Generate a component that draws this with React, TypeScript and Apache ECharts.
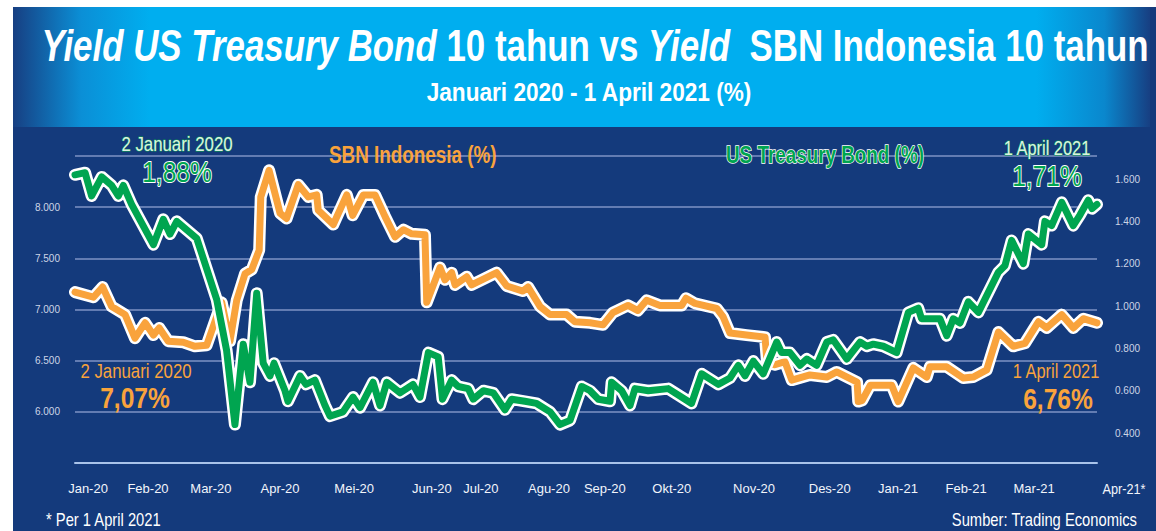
import React, { useEffect, useRef } from "react";
import * as echarts from "echarts";

const FONT = '"Liberation Sans",Arial,Helvetica,sans-serif';
const NARROW = 0.82;

// x axis: days since 2 Jan 2020
const monthLabels = ["Jan-20", "Feb-20", "Mar-20", "Apr-20", "Mei-20", "Jun-20", "Jul-20", "Agu-20", "Sep-20", "Okt-20", "Nov-20", "Des-20", "Jan-21", "Feb-21", "Mar-21"];
const monthLabelDays = [5.8, 32.5, 60.5, 91.3, 124.3, 158.9, 180.7, 211, 235.9, 265.7, 302.3, 336, 366.4, 396.7, 427];
const lastMonthLabel = "Apr-21*";

// SBN Indonesia 10Y (left axis)
const sbnDays = [0, 8.2, 12.3, 16.3, 22.3, 26.7, 31.2, 34.9, 37.5, 41.5, 48.2, 53.4, 58.6, 65.3, 69, 72, 75.7, 78.7, 82, 82.7, 86.4, 91.3, 94.2, 99.4, 103.9, 107.6, 108.3, 115, 121, 123.6, 128.4, 133.6, 138, 142.5, 146.2, 149.9, 155.8, 156.6, 162.5, 164.7, 167.7, 169.2, 174.4, 176.6, 187.7, 192.2, 199.4, 201.7, 207, 211.5, 218.9, 222.6, 229.3, 235.1, 239.5, 246.2, 250.6, 254.5, 260.4, 270.1, 272, 276, 285.7, 288.5, 291.6, 299, 307.2, 308.1, 311.6, 316.1, 319.1, 327.2, 334.7, 339.1, 348.2, 348.7, 350.4, 354.1, 363.6, 366.5, 373.2, 379.2, 380.6, 388.1, 395.5, 399.9, 405.9, 411.1, 417.7, 422.9, 428.9, 432.6, 439.3, 444.5, 448.9, 455];
const sbnValues = [7.17, 7.12, 7.22, 7.03, 6.95, 6.72, 6.87, 6.75, 6.82, 6.69, 6.68, 6.64, 6.65, 7.07, 6.69, 7.09, 7.35, 7.39, 7.58, 8.1, 8.36, 7.94, 7.89, 8.22, 8.1, 8.12, 7.97, 7.83, 8.12, 7.92, 8.12, 8.12, 7.91, 7.71, 7.78, 7.74, 7.73, 7.07, 7.41, 7.29, 7.36, 7.24, 7.32, 7.24, 7.36, 7.23, 7.18, 7.22, 7.03, 6.95, 6.95, 6.88, 6.87, 6.85, 6.97, 7.04, 6.99, 7.09, 7.04, 7.04, 7.11, 7.06, 7.01, 6.93, 6.77, 6.75, 6.73, 6.48, 6.46, 6.49, 6.31, 6.36, 6.34, 6.39, 6.29, 6.1, 6.11, 6.26, 6.26, 6.1, 6.43, 6.34, 6.44, 6.44, 6.33, 6.34, 6.41, 6.78, 6.64, 6.67, 6.88, 6.82, 6.95, 6.82, 6.91, 6.87];

// US Treasury 10Y (right axis)
const ustDays = [0, 4.5, 7.4, 11.9, 16.3, 19.3, 21.5, 25.2, 34.9, 39.3, 42.3, 45.3, 54.2, 63.1, 67.5, 71.2, 74.9, 77.9, 80.9, 83.8, 86.8, 88.6, 93.5, 94.8, 100.2, 102.8, 106.8, 111.3, 113.5, 119.3, 123.8, 126.9, 132.7, 135.8, 138.8, 144.7, 150.5, 153.6, 157.3, 161.7, 163.6, 167.7, 170.6, 175.1, 177.3, 181.8, 186.2, 191.4, 194.4, 200.3, 205.5, 211.5, 215.9, 220.4, 225.6, 229.3, 233, 238.2, 238.9, 243.4, 247.1, 249.3, 255.2, 264.1, 274.5, 279, 286.4, 291.6, 295.3, 298.3, 302, 306.4, 312.4, 314.6, 318.3, 322.8, 325.8, 330.2, 334.7, 337.6, 343.6, 349.5, 352.5, 355.4, 359.9, 365.8, 371, 375.4, 376.9, 385.1, 388.1, 391, 394, 397.7, 402.2, 411.1, 414, 417, 422.2, 424.4, 430.4, 431.8, 434.8, 439.3, 444.4, 447.4, 451.1, 452.8, 455];
const ustValues = [1.62, 1.63, 1.52, 1.61, 1.57, 1.52, 1.57, 1.48, 1.29, 1.41, 1.34, 1.4, 1.32, 1.03, 0.79, 0.44, 0.82, 0.64, 1.06, 0.73, 0.67, 0.73, 0.6, 0.55, 0.67, 0.63, 0.65, 0.53, 0.48, 0.5, 0.57, 0.52, 0.64, 0.53, 0.64, 0.59, 0.63, 0.57, 0.78, 0.76, 0.56, 0.65, 0.62, 0.61, 0.56, 0.6, 0.59, 0.51, 0.56, 0.55, 0.54, 0.5, 0.44, 0.46, 0.62, 0.6, 0.56, 0.55, 0.64, 0.6, 0.53, 0.61, 0.6, 0.61, 0.54, 0.68, 0.63, 0.66, 0.72, 0.67, 0.74, 0.68, 0.83, 0.78, 0.78, 0.72, 0.75, 0.72, 0.83, 0.84, 0.75, 0.83, 0.81, 0.82, 0.81, 0.78, 0.97, 0.99, 0.94, 0.94, 0.86, 0.94, 0.92, 1.02, 0.97, 1.16, 1.19, 1.31, 1.2, 1.34, 1.29, 1.4, 1.38, 1.49, 1.38, 1.43, 1.5, 1.46, 1.48];

const leftAxis = { min: 5.5, max: 8.5, interval: 0.5, shownMin: 6, shownMax: 8 };
const rightAxis = { min: 0.2, max: 1.8, interval: 0.2, shownMin: 0.4, shownMax: 1.6 };

const ORANGE = "#f9a33c";
const GREEN = "#00a550";
const NAVY = "#143a7c";

function txt(text: string, x: number, y: number, size: number, fill: string, opts: any = {}) {
  return {
    type: "text",
    x,
    y,
    scaleX: opts.scaleX || NARROW,
    z: 100,
    silent: true,
    style: {
      text,
      fill,
      font: `${opts.bold ? "bold " : ""}${size}px ${FONT}`,
      align: opts.align || "center",
      textAlign: opts.align || "center",
      verticalAlign: "middle",
      textVerticalAlign: "middle",
      stroke: opts.stroke,
      lineWidth: opts.lineWidth || 0,
      strokeFirst: true,
    },
  };
}

export default function App() {
  const ref = useRef<HTMLDivElement>(null);
  useEffect(() => {
    document.body.style.margin = "0";
    const chart = echarts.init(ref.current!, null, { renderer: "svg" });
    const sbnData = sbnDays.map((d, i) => [d, sbnValues[i]]);
    const ustData = ustDays.map((d, i) => [d, ustValues[i]]);
    const xMax = sbnDays[sbnDays.length - 1];

    const labelFor = (v: number) => {
      let best = 0;
      monthLabelDays.forEach((d, i) => {
        if (Math.abs(d - v) < Math.abs(monthLabelDays[best] - v)) best = i;
      });
      return monthLabels[best];
    };

    const headerGrad = new echarts.graphic.LinearGradient(0, 0, 1, 0, [
      { offset: 0, color: "#173f82" },
      { offset: 0.06, color: "#0b8fd6" },
      { offset: 0.12, color: "#00aeef" },
      { offset: 0.9, color: "#00aeef" },
      { offset: 0.96, color: "#0a87cd" },
      { offset: 1, color: "#173f82" },
    ]);

    const lineBase = { type: "line", symbol: "none", clip: false, silent: true };

    const option: any = {
      animation: false,
      backgroundColor: "#ffffff",
      grid: [
        { left: 75, right: 59, top: 156, bottom: 68 },
        { left: 75, right: 59, top: 136.7, bottom: 55.6 },
      ],
      xAxis: [
        {
          gridIndex: 0,
          type: "value",
          min: 0,
          max: xMax,
          axisLine: { show: true, lineStyle: { color: "#a9c3ea", width: 2 } },
          axisTick: { show: false },
          splitLine: { show: false },
          axisLabel: {
            customValues: monthLabelDays,
            formatter: (v: number) => labelFor(v),
            color: "#f2f5fb",
            fontSize: 13,
            fontFamily: FONT,
            margin: 19,
          },
        },
        { gridIndex: 1, type: "value", min: 0, max: xMax, show: false },
      ],
      yAxis: [
        {
          gridIndex: 0,
          type: "value",
          position: "left",
          min: leftAxis.min,
          max: leftAxis.max,
          interval: leftAxis.interval,
          axisLine: { show: false },
          axisTick: { show: false },
          splitLine: { show: true, lineStyle: { color: "#7e93c4", width: 1.5 } },
          axisLabel: {
            formatter: (v: number) => (v < leftAxis.shownMin - 0.01 || v > leftAxis.shownMax + 0.01 ? "" : v.toFixed(3)),
            color: "#cdd5e6",
            fontSize: 10,
            fontFamily: FONT,
            margin: 15,
          },
        },
        {
          gridIndex: 1,
          type: "value",
          position: "right",
          min: rightAxis.min,
          max: rightAxis.max,
          interval: rightAxis.interval,
          axisLine: { show: false },
          axisTick: { show: false },
          splitLine: { show: false },
          axisLabel: {
            formatter: (v: number) => (v < rightAxis.shownMin - 0.01 || v > rightAxis.shownMax + 0.01 ? "" : v.toFixed(3)),
            color: "#cdd5e6",
            fontSize: 10,
            fontFamily: FONT,
            margin: 18,
          },
        },
      ],
      series: [
        { ...lineBase, name: "sbn-outline", xAxisIndex: 0, yAxisIndex: 0, data: sbnData, z: 2, lineStyle: { color: "#ffffff", width: 12, join: "round", cap: "round" } },
        { ...lineBase, name: "SBN Indonesia (%)", xAxisIndex: 0, yAxisIndex: 0, data: sbnData, z: 3, lineStyle: { color: ORANGE, width: 7, join: "round", cap: "round" } },
        { ...lineBase, name: "ust-outline", xAxisIndex: 1, yAxisIndex: 1, data: ustData, z: 4, lineStyle: { color: "#ffffff", width: 12, join: "round", cap: "round" } },
        { ...lineBase, name: "US Treasury Bond (%)", xAxisIndex: 1, yAxisIndex: 1, data: ustData, z: 5, lineStyle: { color: GREEN, width: 7, join: "round", cap: "round" } },
      ],
      graphic: [
        { type: "rect", z: -10, silent: true, shape: { x: 13, y: 7, width: 1143, height: 524 }, style: { fill: NAVY } },
        { type: "rect", z: -9, silent: true, shape: { x: 13, y: 7, width: 1137, height: 120 }, style: { fill: headerGrad } },
        {
          type: "text",
          x: 595,
          y: 46,
          scaleX: 0.775,
          z: 100,
          silent: true,
          style: {
            text: "{i|Yield US Treasury Bond} 10 tahun vs {i|Yield}  SBN Indonesia 10 tahun",
            fill: "#ffffff",
            font: `bold 45px ${FONT}`,
            align: "center",
            textAlign: "center",
            verticalAlign: "middle",
            textVerticalAlign: "middle",
            rich: {
              i: { fontStyle: "italic", fontWeight: "bold", fontSize: 45, fontFamily: FONT, fill: "#ffffff" },
            },
          },
        },
        txt("Januari 2020 - 1 April 2021 (%)", 589, 92, 26, "#ffffff", { bold: true, scaleX: 0.87 }),
        txt("SBN Indonesia (%)", 329, 155, 23, ORANGE, { bold: true, align: "left" }),
        txt("US Treasury Bond (%)", 726, 155, 23, GREEN, { bold: true, align: "left", stroke: "#ffffff", lineWidth: 1.5 }),
        txt("2 Januari 2020", 177, 144, 20.5, "#dcf1e3", { stroke: "#0c9f4f", lineWidth: 1 }),
        txt("1,88%", 177, 172, 30, GREEN, { stroke: "#ffffff", lineWidth: 2 }),
        txt("1 April 2021", 1047, 148, 20, "#dcf1e3", { stroke: "#0c9f4f", lineWidth: 1 }),
        txt("1,71%", 1047, 176, 30, GREEN, { stroke: "#ffffff", lineWidth: 2 }),
        txt("2 Januari 2020", 136, 371, 20.5, ORANGE),
        txt("7,07%", 135, 398, 30, ORANGE, { bold: true }),
        txt("1 April 2021", 1056, 371, 20, ORANGE),
        txt("6,76%", 1058, 399, 30, ORANGE, { bold: true }),
        txt(lastMonthLabel, 1124, 489, 15.5, "#f2f5fb"),
        txt("* Per 1 April 2021", 46, 519, 18, "#ffffff", { align: "left" }),
        txt("Sumber: Trading Economics", 1137, 519, 18, "#ffffff", { align: "right" }),
      ],
    };
    chart.setOption(option);
    return () => chart.dispose();
  }, []);
  return <div ref={ref} style={{ width: 1156, height: 531 }} />;
}
